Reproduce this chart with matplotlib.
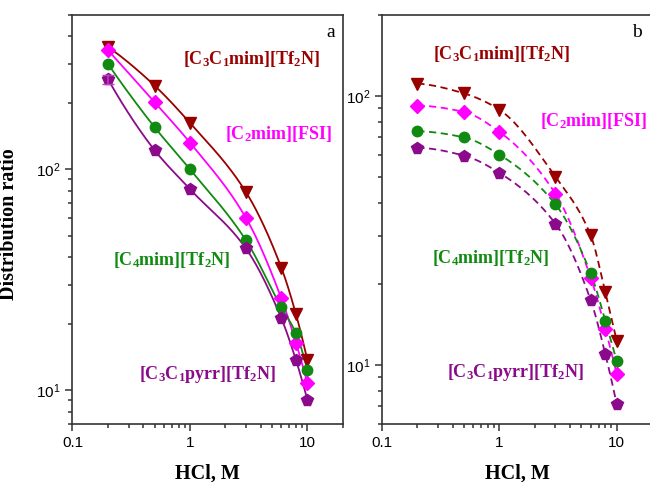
import matplotlib
matplotlib.use("Agg")
import matplotlib.pyplot as plt
import numpy as np
from matplotlib.ticker import LogLocator, NullFormatter

plt.rcParams["font.family"] = ["Liberation Sans", "DejaVu Sans"]
plt.rcParams["mathtext.fontset"] = "custom"
plt.rcParams["mathtext.rm"] = "Liberation Sans"
plt.rcParams["mathtext.bf"] = "Liberation Serif:bold"

# HCl concentration, M
hcl = [0.2, 0.5, 1, 3, 6, 8, 10]

# panel a: distribution ratios
a_c3c1mim = [358, 239, 162, 78.8, 35.9, 22.1, 13.7]
a_c2mim_fsi = [346, 201, 132, 60.2, 26.1, 16.4, 10.8]
a_c4mim = [300, 155, 100, 47.7, 23.7, 18.1, 12.35]
a_c3c1pyrr = [256, 122, 81.3, 43.8, 21.2, 13.7, 9.08]
a_pyrr_err0 = 12

# panel b: distribution ratios
b_c3c1mim = [111, 102, 88.7, 50, 30.3, 18.6, 12.3]
b_c2mim_fsi = [91.8, 87, 73.4, 43.3, 21.1, 13.6, 9.24]
b_c4mim = [73.7, 70, 60.4, 39.5, 21.9, 14.6, 10.3]
b_c3c1pyrr = [64, 59.9, 51.7, 33.5, 17.4, 10.96, 7.15]

names = [r"$\mathbf{[C_3C_1mim][Tf_2N]}$", r"$\mathbf{[C_2mim][FSI]}$",
         r"$\mathbf{[C_4mim][Tf_2N]}$", r"$\mathbf{[C_3C_1pyrr][Tf_2N]}$"]
colors = ["#990000", "#ff00ff", "#108a10", "#8b0a8b"]
markers = ["v", "D", "o", "p"]
msizes = [8.5, 7, 7.5, 8.5]


def smooth_line(x, y, n=40):
    # monotone cubic (PCHIP) through the points, in log-log space
    lx, ly = np.log10(x), np.log10(y)
    h = np.diff(lx)
    d = np.diff(ly) / h
    m = np.zeros_like(lx)
    for k in range(1, len(lx) - 1):
        if d[k - 1] * d[k] > 0:
            w1 = 2 * h[k] + h[k - 1]
            w2 = h[k] + 2 * h[k - 1]
            m[k] = (w1 + w2) / (w1 / d[k - 1] + w2 / d[k])
    for i, (h0, h1, d0, d1) in ((0, (h[0], h[1], d[0], d[1])),
                                (-1, (h[-1], h[-2], d[-1], d[-2]))):
        e = ((2 * h0 + h1) * d0 - h0 * d1) / (h0 + h1)
        if np.sign(e) != np.sign(d0):
            e = 0.0
        elif np.sign(d0) != np.sign(d1) and abs(e) > abs(3 * d0):
            e = 3 * d0
        m[i] = e
    xs_all, ys_all = [], []
    for k in range(len(lx) - 1):
        t = np.linspace(0, 1, n)
        h00 = 2 * t**3 - 3 * t**2 + 1
        h10 = t**3 - 2 * t**2 + t
        h01 = -2 * t**3 + 3 * t**2
        h11 = t**3 - t**2
        xs_all.append(lx[k] + t * h[k])
        ys_all.append(h00 * ly[k] + h10 * h[k] * m[k]
                      + h01 * ly[k + 1] + h11 * h[k] * m[k + 1])
    return 10 ** np.concatenate(xs_all), 10 ** np.concatenate(ys_all)


def style_axes(ax, ylim, letter, letter_x):
    ax.set_xscale("log")
    ax.set_yscale("log")
    ax.set_xlim(0.1, 20)
    ax.set_ylim(*ylim)
    ax.set_xticks([0.1, 1, 10], labels=["0.1", "1", "10"])
    ax.xaxis.set_minor_locator(LogLocator(base=10, subs=np.arange(2, 10)))
    ax.xaxis.set_minor_formatter(NullFormatter())
    ax.yaxis.set_major_locator(LogLocator(base=10))
    ax.yaxis.set_minor_locator(LogLocator(base=10, subs=np.arange(2, 10)))
    ax.yaxis.set_minor_formatter(NullFormatter())
    ax.tick_params(which="both", direction="out", top=False, right=False,
                   labelsize=11, width=1.1, color="#333333")
    ax.tick_params(which="major", length=5)
    ax.tick_params(which="minor", length=3)
    for s in ax.spines.values():
        s.set_linewidth(1.2)
        s.set_color("#333333")
    ax.set_xlabel("HCl, M", family="Liberation Serif", fontweight="bold",
                  fontsize=14.5)
    ax.xaxis.set_label_coords(0.5, -0.095)
    ax.text(letter_x, 0.9456, letter, transform=ax.transAxes, ha="center",
            va="baseline", family="Liberation Serif", fontsize=14)


fig = plt.figure(figsize=(6.5, 4.82), dpi=100)
ax1 = fig.add_axes([0.1115, 0.1193, 0.4157, 0.8502])
ax2 = fig.add_axes([0.5877, 0.1193, 0.4154, 0.8502])

x = np.array(hcl, dtype=float)
series_a = [a_c3c1mim, a_c2mim_fsi, a_c4mim, a_c3c1pyrr]
series_b = [b_c3c1mim, b_c2mim_fsi, b_c4mim, b_c3c1pyrr]

for y, c, m, ms in zip(series_a, colors, markers, msizes):
    y = np.array(y, dtype=float)
    fx, fy = smooth_line(x, y)
    ax1.plot(fx, fy, color=c, lw=1.3, zorder=2)
    ax1.plot(x, y, ls="none", marker=m, ms=ms, color=c, mec=c, zorder=3)
ax1.errorbar(x[:1], a_c3c1pyrr[:1], yerr=a_pyrr_err0, fmt="none",
             ecolor="#c040c0", elinewidth=1.1, capsize=4, zorder=4)

for y, c, m, ms in zip(series_b, colors, markers, msizes):
    y = np.array(y, dtype=float)
    fx, fy = smooth_line(x, y)
    ax2.plot(fx, fy, color=c, lw=1.3, ls=(0, (4, 2.5)), zorder=2)
    ax2.plot(x, y, ls="none", marker=m, ms=ms, color=c, mec=c, zorder=3)

style_axes(ax1, (7, 500), "a", 0.957)
style_axes(ax2, (6, 200), "b", 0.944)

ax1.set_ylabel("Distribution ratio", family="Liberation Serif",
               fontweight="bold", fontsize=14.5)
ax1.yaxis.set_label_coords(-0.198, 0.49)

pos_a = [(0.664, 0.8785), (0.762, 0.6955), (0.366, 0.3904), (0.50, 0.1122)]
pos_b = [(0.444, 0.8931), (0.783, 0.7296), (0.402, 0.3929), (0.496, 0.1171)]
for ax, positions in ((ax1, pos_a), (ax2, pos_b)):
    for name, c, (px, py) in zip(names, colors, positions):
        ax.text(px, py, name, color=c, fontsize=13, ha="center", va="baseline",
                transform=ax.transAxes)

fig.savefig("out.png", dpi=100)
